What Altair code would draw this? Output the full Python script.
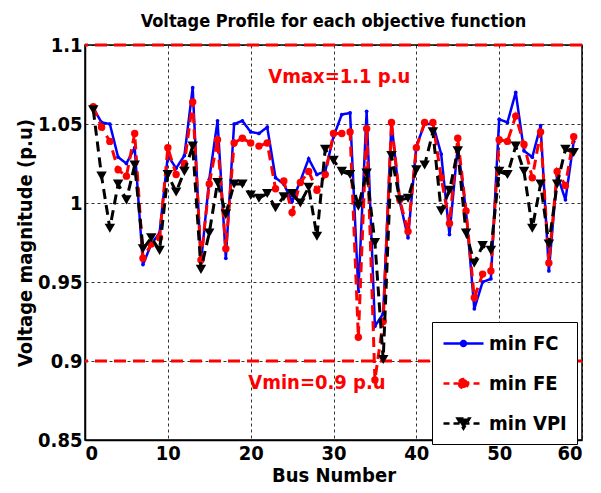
import altair as alt
import pandas as pd

bus = list(range(1, 60))
min_fc = [1.060, 1.051, 1.050, 1.029, 1.025, 1.035, 0.961, 0.974, 0.981, 1.030,
          1.022, 1.030, 1.073, 0.962, 1.015, 1.052, 0.965, 1.050, 1.052, 1.045,
          1.044, 1.048, 1.016, 1.012, 1.001, 1.014, 1.028, 1.018, 1.020, 1.042,
          1.056, 1.057, 0.944, 1.058, 0.922, 0.930, 1.051, 1.001, 0.978, 1.036,
          1.050, 1.050, 1.031, 0.980, 1.036, 0.995, 0.933, 0.950, 0.952, 1.053,
          1.051, 1.070, 1.033, 1.029, 1.049, 0.957, 1.018, 1.002, 1.039]
min_fe = [1.061, 1.048, 1.039, 1.021, 1.017, 1.044, 0.965, 0.974, 0.978, 1.035,
          1.018, 1.025, 1.064, 0.964, 1.012, 1.040, 0.971, 1.038, 1.041, 1.038,
          1.036, 1.038, 1.009, 1.014, 0.994, 1.013, 1.020, 1.008, 1.018, 1.044,
          1.044, 1.045, 0.915, 1.047, 0.888, 0.925, 1.051, 1.002, 0.982, 1.035,
          1.051, 1.051, 1.016, 0.987, 1.041, 0.995, 0.940, 0.955, 0.957, 1.040,
          1.039, 1.055, 1.037, 1.016, 1.045, 0.962, 1.020, 1.011, 1.042]
min_vpi = [1.059, 1.017, 0.984, 1.012, 1.002, 1.024, 0.971, 0.978, 0.970, 1.018,
           1.007, 1.020, 1.036, 0.958, 0.981, 1.013, 0.993, 1.012, 1.012, 1.005,
           1.003, 1.006, 0.997, 1.004, 1.006, 1.000, 1.010, 0.979, 1.034, 1.027,
           1.020, 1.018, 0.998, 1.019, 0.975, 0.901, 1.030, 1.002, 1.003, 1.021,
           1.024, 1.045, 0.995, 1.008, 1.033, 0.981, 0.962, 0.973, 0.970, 1.020,
           1.018, 1.036, 1.020, 0.984, 1.012, 0.974, 1.012, 1.034, 1.032]

series_names = ["min FC", "min FE", "min VPI"]
series_colors = ["#0000ff", "#ff0000", "#000000"]
limits = [1.1, 0.9]
annot_text = ["Vmax=1.1 p.u", "Vmin=0.9 p.u"]
annot_x = [30.7, 28.0]
annot_y = [1.080, 0.886]
x_ticks = [0, 10, 20, 30, 40, 50, 60]
y_ticks = [0.85, 0.9, 0.95, 1.0, 1.05, 1.1]

FONT = "DejaVu Sans Condensed, Liberation Sans Narrow, sans-serif"

df = pd.DataFrame({
    "bus": bus * 3,
    "v": min_fc + min_fe + min_vpi,
    "series": [series_names[0]] * len(bus) + [series_names[1]] * len(bus) + [series_names[2]] * len(bus),
})

x_enc = alt.X("bus:Q", scale=alt.Scale(domain=[0, 60], nice=False),
              axis=alt.Axis(values=x_ticks, title="Bus Number"))
y_enc = alt.Y("v:Q", scale=alt.Scale(domain=[0.85, 1.1], nice=False, zero=False),
              axis=alt.Axis(values=y_ticks, format="~g", title="Voltage magnitude (p.u)"))

layers = []

# limit lines
layers.append(
    alt.Chart(pd.DataFrame({"v": limits}))
    .mark_rule(color="#ff0000", strokeDash=[12, 7], strokeWidth=3)
    .encode(y=y_enc)
)

styles = [
    dict(dash=[1, 0], shape="circle", size=14, width=2.5),
    dict(dash=[10, 6], shape="circle", size=55, width=3),
    dict(dash=[10, 6], shape="triangle-down", size=110, width=3),
]

base = alt.Chart(df)
for name, color, st in zip(series_names, series_colors, styles):
    sub = base.transform_filter(alt.datum.series == name)
    layers.append(sub.mark_line(color=color, strokeDash=st["dash"], strokeWidth=st["width"])
                  .encode(x=x_enc, y=y_enc))
    layers.append(sub.mark_point(filled=True, color=color, shape=st["shape"], size=st["size"], opacity=1)
                  .encode(x=x_enc, y=y_enc))

# annotations
layers.append(
    alt.Chart(pd.DataFrame({"bus": annot_x, "v": annot_y, "label": annot_text}))
    .mark_text(color="#ff0000", font=FONT, fontSize=20, fontWeight="bold", align="center", baseline="middle")
    .encode(x=x_enc, y=y_enc, text="label:N")
)

# legend-only layer
legend_paths = [
    "M-2,0H2M-0.25,0A0.25,0.25 0 1,0 0.25,0A0.25,0.25 0 1,0 -0.25,0Z",
    "M-2,0H2M-0.45,0A0.45,0.45 0 1,0 0.45,0A0.45,0.45 0 1,0 -0.45,0Z",
    "M-2,0H2M-0.6,-0.5L0.6,-0.5L0,0.5Z",
]
leg = alt.Legend(title=None, orient="none", legendX=347, legendY=277,
                 symbolSize=400, symbolStrokeWidth=2.5, symbolOpacity=1,
                 labelFont=FONT, labelFontSize=20, labelFontWeight="bold", labelColor="black",
                 strokeColor="black", fillColor="white", padding=10, rowPadding=18,
                 symbolOffset=10, labelOffset=14)
layers.append(
    alt.Chart(df).transform_filter("datum.bus < 0")
    .mark_point(filled=True, strokeWidth=2.5)
    .encode(
        x=x_enc, y=y_enc,
        fill=alt.Fill("series:N", scale=alt.Scale(domain=series_names, range=series_colors), legend=leg),
        stroke=alt.Stroke("series:N", scale=alt.Scale(domain=series_names, range=series_colors), legend=leg),
        shape=alt.Shape("series:N", scale=alt.Scale(domain=series_names, range=legend_paths), legend=leg),
        strokeDash=alt.StrokeDash("series:N", scale=alt.Scale(domain=series_names, range=[[1, 0], [6, 4], [6, 4]]), legend=leg),
    )
)

chart = (
    alt.layer(*layers)
    .properties(
        width=497, height=395,
        title=alt.Title("Voltage Profile for each objective function", font=FONT, fontSize=18,
                        fontWeight="bold", color="black", offset=4),
        autosize=alt.AutoSizeParams(type="none"),
        padding={"left": 77, "top": 37, "right": 10, "bottom": 48},
    )
    .configure_view(stroke="black", strokeWidth=1.5)
    .configure_axis(
        labelFont=FONT, labelFontSize=20, labelFontWeight="bold", labelColor="black",
        titleFont=FONT, titleFontSize=20, titleFontWeight="bold", titleColor="black",
        domainColor="black", domainWidth=1.5, ticks=False, labelPadding=3,
        grid=True, gridColor="black", gridDash=[3, 3], gridWidth=1, gridOpacity=0.8,
        titlePadding=2,
    )
)

chart.save("out.html", embed_options={"renderer": "svg", "actions": False})
